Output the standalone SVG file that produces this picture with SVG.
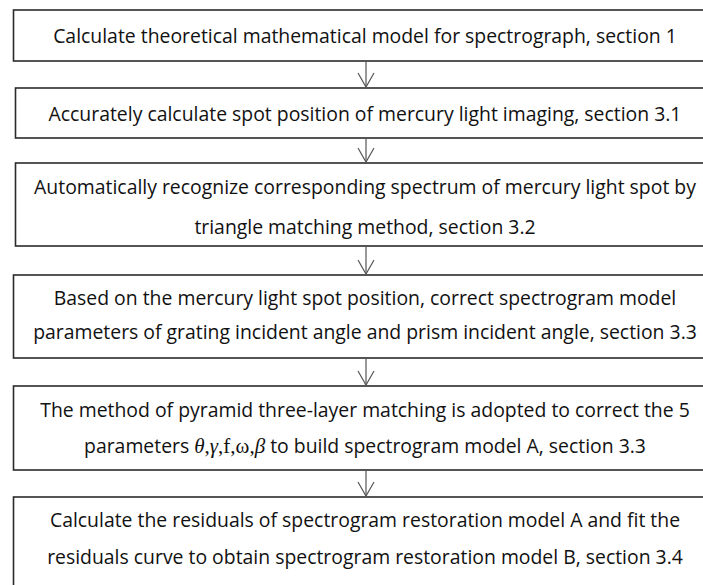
<svg xmlns="http://www.w3.org/2000/svg" width="703" height="585" viewBox="0 0 703 585">
<style>
.box{fill:#fff;stroke:#2b2b2b;stroke-width:1.6}
.t{font-family:"Open Sans","Noto Sans","Liberation Sans",sans-serif;font-size:19.4px;fill:#111;text-anchor:middle}
.m{font-family:"Liberation Serif","DejaVu Serif",serif;font-size:21px}
.conn line{stroke:#555;stroke-width:1.2}
.conn path{fill:none;stroke:#555;stroke-width:1.2}
</style>
<rect width="703" height="585" fill="#fff"/>
<g id="n1"><rect class="box" x="13.5" y="10" width="700" height="51"/>
<text class="t" x="365" y="43">Calculate theoretical mathematical model for spectrograph, section 1</text></g>
<g id="n2"><rect class="box" x="15.5" y="88" width="700" height="50"/>
<text class="t" x="365" y="121">Accurately calculate spot position of mercury light imaging, section 3.1</text></g>
<g id="n3"><rect class="box" x="15.5" y="163" width="700" height="83"/>
<text class="t" x="365" y="194">Automatically recognize corresponding spectrum of mercury light spot by</text>
<text class="t" x="365" y="234">triangle matching method, section 3.2</text></g>
<g id="n4"><rect class="box" x="13.5" y="275" width="700" height="83"/>
<text class="t" x="365" y="305">Based on the mercury light spot position, correct spectrogram model</text>
<text class="t" x="365" y="339">parameters of grating incident angle and prism incident angle, section 3.3</text></g>
<g id="n5"><rect class="box" x="13.5" y="386" width="700" height="84"/>
<text class="t" x="365" y="417">The method of pyramid three-layer matching is adopted to correct the 5</text>
<text class="t" x="365" y="453">parameters <tspan class="m" font-style="italic">θ</tspan><tspan class="m">,</tspan><tspan class="m" font-style="italic">γ</tspan><tspan class="m">,f,ω,</tspan><tspan class="m" font-style="italic">β</tspan> to build spectrogram model A, section 3.3</text></g>
<g id="n6"><rect class="box" x="13.5" y="497" width="700" height="100"/>
<text class="t" x="365" y="527">Calculate the residuals of spectrogram restoration model A and fit the</text>
<text class="t" x="365" y="564">residuals curve to obtain spectrogram restoration model B, section 3.4</text></g>
<g class="conn">
<line x1="366" y1="61" x2="366" y2="88"/><path d="M358 73 L366 87 L374 73"/>
<line x1="366" y1="138" x2="366" y2="163"/><path d="M358 148 L366 162 L374 148"/>
<line x1="366" y1="246" x2="366" y2="275"/><path d="M358 260 L366 274 L374 260"/>
<line x1="366" y1="358" x2="366" y2="386"/><path d="M358 371 L366 385 L374 371"/>
<line x1="366" y1="470" x2="366" y2="497"/><path d="M358 482 L366 496 L374 482"/>
</g>
</svg>
